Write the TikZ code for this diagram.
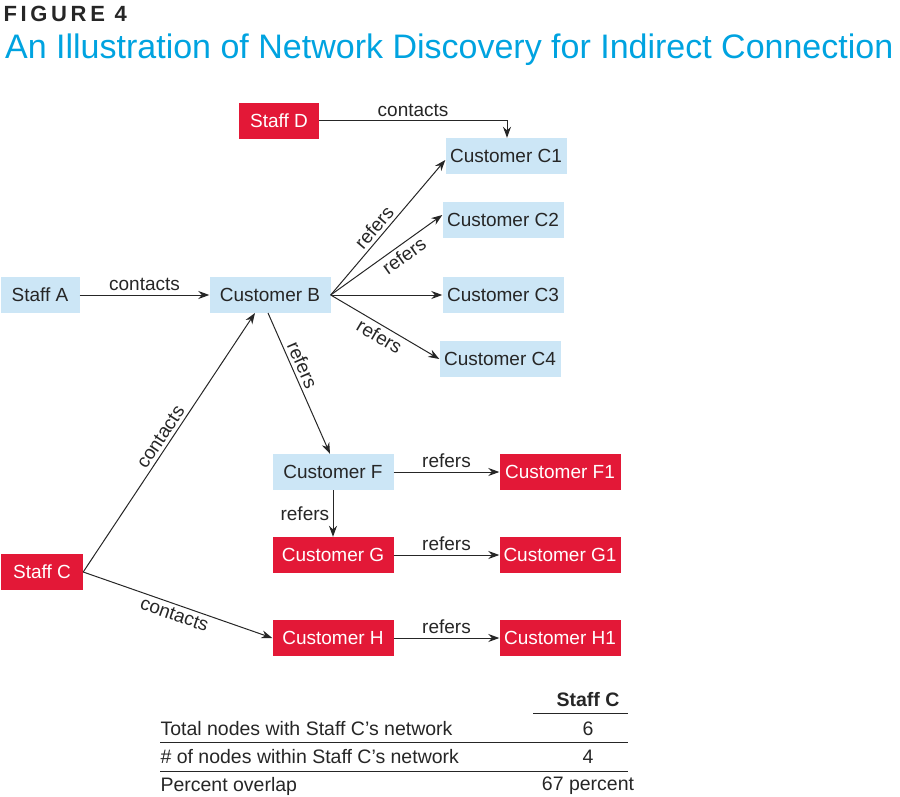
\documentclass[tikz,border=0pt]{standalone}
\usepackage{fontspec}
\setmainfont{Liberation Sans}
\usetikzlibrary{arrows.meta}
\definecolor{lb}{HTML}{CCE6F6}
\definecolor{rd}{HTML}{E31837}
\definecolor{tb}{HTML}{00A3E0}
\begin{document}
\begin{tikzpicture}[x=1pt,y=-1pt,
 box/.style={minimum width=121pt,minimum height=36pt,inner sep=0pt,font=\fontsize{19}{22}\selectfont},
 blue/.style={box,fill=lb,text=black!85},
 red/.style={box,fill=rd,text=white},
 arr/.style={-{Stealth[length=11pt,width=8pt]},line width=1pt,black!85},
 lab/.style={font=\fontsize{19}{22}\selectfont,text=black!85},
 tx/.style={font=\fontsize{19.5}{22}\selectfont,text=black!85,anchor=west}]
\useasboundingbox (0,0) rectangle (900,797);
\node[anchor=west,font=\fontsize{22}{24}\selectfont\bfseries,text=black!85] (fig) at (0,14) {F\,I\,G\,U\,R\,E\, 4};
\node[anchor=west,font=\fontsize{34}{38}\selectfont,text=tb,inner sep=0pt] (title) at (5,50) {An Illustration of Network Discovery for Indirect Connection};
\node[red,minimum width=80pt] (D) at (279,121) {Staff D};
\node[blue] (C1) at (506,156) {Customer C1};
\node[blue] (C2) at (503,220) {Customer C2};
\node[blue] (C3) at (503,295) {Customer C3};
\node[blue] (C4) at (500,359) {Customer C4};
\node[blue,minimum width=79pt] (A) at (40,295) {Staff A};
\node[blue] (B) at (270,295) {Customer B};
\node[blue] (F) at (333,472) {Customer F};
\node[red] (F1) at (560,472) {Customer F1};
\node[red] (G) at (333,555) {Customer G};
\node[red] (G1) at (560,555) {Customer G1};
\node[red] (H) at (333,638) {Customer H};
\node[red] (H1) at (560,638) {Customer H1};
\node[red,minimum width=82pt] (SC) at (42,572) {Staff C};
\draw[arr] (D.east) -| node[lab,pos=0.25,above] {contacts} ([xshift=1pt]C1.north);
\draw[arr] (A) -- node[lab,above] {contacts} (B);
\draw[arr] (B.east) -- node[lab,sloped,above,pos=0.45] {refers} (C1.west|-0,160);
\draw[arr] (B.east) -- node[lab,sloped,below,pos=0.6] {refers} ([yshift=5pt]C2.west);
\draw[arr] (B.east) -- (C3.west);
\draw[arr] (B.east) -- node[lab,sloped,below,pos=0.5] {refers} (C4.west);
\draw[arr] (268,313) -- node[lab,sloped,above,pos=0.4] {refers} (F.north-|330,0);
\draw[arr] (SC.east) -- node[lab,sloped,above] {contacts} (255,313);
\draw[arr] (SC.east) -- node[lab,sloped,below] {contacts} (H.west);
\draw[arr] (F) -- node[lab,above] {refers} (F1);
\draw[arr] (F) -- node[lab,left] {refers} (G);
\draw[arr] (G) -- node[lab,above] {refers} (G1);
\draw[arr] (H) -- node[lab,above] {refers} (H1);
\node[font=\fontsize{19.5}{22}\selectfont\bfseries,text=black!85] (hd) at (588,700) {Staff C};
\node[tx] (r1) at (157,729) {Total nodes with Staff C’s network};
\node[tx] (r2) at (157,757) {\# of nodes within Staff C’s network};
\node[tx] (r3) at (157,786) {Percent overlap};
\node[tx,anchor=center] (v1) at (588,729) {6};
\node[tx,anchor=center] (v2) at (588,757) {4};
\node[tx,anchor=center] (v3) at (588,786) {67 percent};
\draw[line width=1pt,black!85] (533,713) -- (628,713);
\draw[line width=1pt,black!85] (160,742) -- (628,742);
\draw[line width=1pt,black!85] (160,771) -- (628,771);
\end{tikzpicture}
\end{document}
